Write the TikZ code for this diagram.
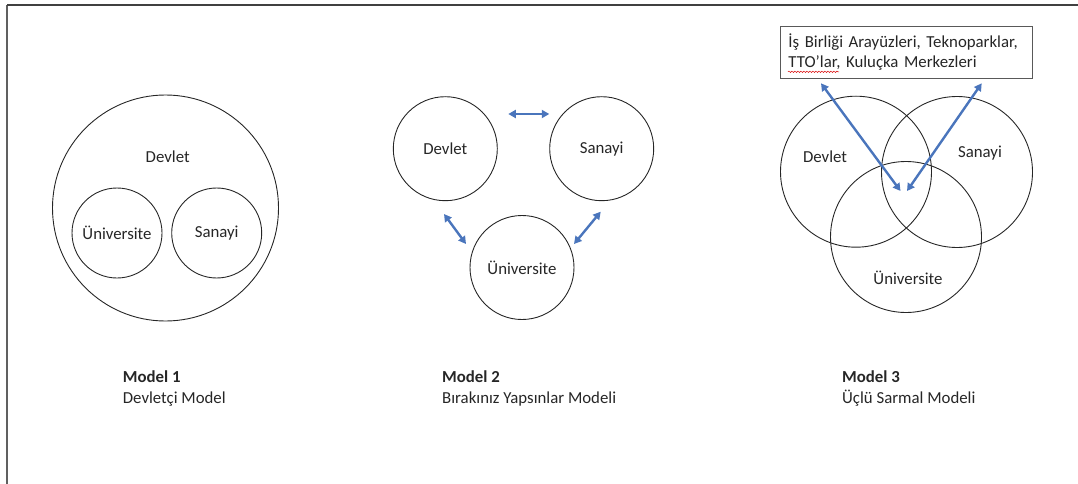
\documentclass[tikz,border=0pt]{standalone}
\usepackage{fontspec}
\setmainfont{Carlito}
\usetikzlibrary{arrows.meta,decorations.pathmorphing}
\definecolor{arrowblue}{HTML}{4A75BC}
\definecolor{ink}{HTML}{262626}
\begin{document}
\begin{tikzpicture}[x=1pt,y=-1pt,
  circ/.style={draw=ink, line width=0.9pt, circle, inner sep=0pt, minimum size=#1},
  lbl/.style={font=\fontsize{16.8}{20}\selectfont, text=ink, inner sep=0pt},
  dbl/.style={draw=arrowblue, line width=2.4pt, {Triangle[length=7.5pt,width=8pt]}-{Triangle[length=7.5pt,width=8pt]}},
  captxt/.style={font=\fontsize{16.8}{20}\selectfont, text=ink, inner sep=0pt, anchor=base west},
  capbold/.style={captxt, font=\fontsize{16.8}{20}\selectfont\bfseries},
]
\useasboundingbox (0,0) rectangle (1078,484);
% frame
\coordinate (fa) at (7.3,484);
\coordinate (fb) at (7.3,5);
\coordinate (fc) at (1078,5);
\draw[draw=gray!75!black, line width=2pt] (fa) -- (fb);
\draw[draw=black!75, line width=1.6pt] (fb) -- (fc);

% Model 1
\node[circ=226pt] (m1dev) at (165.5,208) {};
\node[lbl] (m1devl) at (167.7,156.7) {Devlet};
\node[circ=90pt,lbl] (m1uni) at (117,233) {Üniversite};
\node[circ=90pt,lbl] (m1san) at (216.7,233) {Sanayi};

% Model 2
\node[circ=104pt,lbl] (m2dev) at (445.3,148.7) {Devlet};
\node[circ=104pt,lbl] (m2san) at (601.7,148.7) {Sanayi};
\node[circ=104pt,lbl] (m2uni) at (522,267.5) {Üniversite};
\coordinate (a1) at (508.3,114);
\coordinate (a2) at (549.3,114);
\coordinate (b1) at (444,214);
\coordinate (b2) at (466,244);
\coordinate (c1) at (600.7,211.7);
\coordinate (c2) at (574,244);
\draw[dbl] (a1) -- (a2);
\draw[dbl] (b1) -- (b2);
\draw[dbl] (c1) -- (c2);

% Model 3
\node[circ=151pt] (m3dev) at (856,171.7) {};
\node[circ=151pt] (m3san) at (957,172) {};
\node[circ=151pt] (m3uni) at (906,237) {};
\node[lbl] (m3devl) at (825,156.7) {Devlet};
\node[lbl] (m3sanl) at (980,153.5) {Sanayi};
\node[lbl] (m3unil) at (908,278) {Üniversite};
\node[draw=gray!70!black, line width=1pt, lbl, align=left, text width=236pt,
      inner xsep=8pt, minimum height=52.3pt, anchor=center] (box) at (906.4,52.2)
  {İş Birliği Arayüzleri, Teknoparklar,\\TTO’lar, Kuluçka Merkezleri};
\coordinate (sq1) at (788,71.8);
\coordinate (sq2) at (839,71.8);
\draw[red!85!black, line width=0.5pt, decorate, decoration={snake, amplitude=0.7pt, segment length=3pt}] (sq1) -- (sq2);
\coordinate (t1) at (821,83.3);
\coordinate (t2) at (900.5,191);
\coordinate (t3) at (981.7,83.3);
\coordinate (t4) at (907,191);
\draw[dbl] (t1) -- (t2);
\draw[dbl] (t3) -- (t4);

% captions
\node[capbold] (cap1a) at (122.7,382.7) {Model 1};
\node[captxt] (cap1b) at (122.7,403) {Devletçi Model};
\node[capbold] (cap2a) at (442,382.7) {Model 2};
\node[captxt] (cap2b) at (442,403) {Bırakınız Yapsınlar Modeli};
\node[capbold] (cap3a) at (842,382.7) {Model 3};
\node[captxt] (cap3b) at (842,403) {Üçlü Sarmal Modeli};
\end{tikzpicture}
\end{document}
